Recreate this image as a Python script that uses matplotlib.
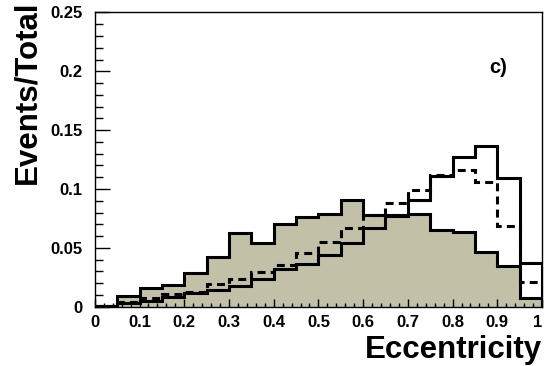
import matplotlib
matplotlib.use("Agg")
import matplotlib.pyplot as plt
from matplotlib.ticker import MultipleLocator
import numpy as np

plt.rcParams['font.family'] = ['Liberation Sans', 'DejaVu Sans']
plt.rcParams['font.weight'] = 'bold'

# 20 bins of eccentricity, width 0.05
bin_edges = np.linspace(0, 1, 21)

# filled histogram (peaks around 0.55-0.6)
filled = [0.001, 0.0091, 0.0160, 0.0184, 0.0289, 0.042, 0.0623, 0.0544, 0.0702, 0.0759,
          0.0785, 0.0903, 0.078, 0.077, 0.079, 0.065, 0.0637, 0.0467, 0.0346, 0.0071]
# solid open histogram (peaks around 0.85-0.9)
solid = [0.001, 0.003, 0.005, 0.008, 0.0114, 0.0142, 0.0176, 0.0233, 0.0317, 0.0363,
         0.0439, 0.0538, 0.0666, 0.078, 0.091, 0.111, 0.1269, 0.1365, 0.109, 0.0368]
# dashed histogram
dashed = [0.001, 0.004, 0.007, 0.0108, 0.0127, 0.0193, 0.0233, 0.0297, 0.0354, 0.0459,
          0.0552, 0.0666, 0.078, 0.088, 0.099, 0.112, 0.116, 0.106, 0.0688, 0.0207]

xticks = [0, 0.1, 0.2, 0.3, 0.4, 0.5, 0.6, 0.7, 0.8, 0.9, 1]
xticklabels = ['0', '0.1', '0.2', '0.3', '0.4', '0.5', '0.6', '0.7', '0.8', '0.9', '1']
yticks = [0, 0.05, 0.1, 0.15, 0.2, 0.25]
yticklabels = ['0', '0.05', '0.1', '0.15', '0.2', '0.25']

fig = plt.figure(figsize=(5.45, 3.66), dpi=100)
ax = fig.add_axes([0.174, 0.162, 0.8205, 0.804])

ax.stairs(filled, bin_edges, fill=True, color='#c3c0a8', baseline=0, zorder=1)
ax.stairs(filled, bin_edges, color='black', lw=2.2, baseline=0, zorder=3)
ax.stairs(solid, bin_edges, color='black', lw=2.2, baseline=0, zorder=3)
ax.stairs(dashed, bin_edges, color='black', lw=2.2, ls=(0, (2.6, 1.7)), baseline=0, zorder=4)

ax.set_xlim(0, 1)
ax.set_ylim(0, 0.25)

ax.set_xticks(xticks)
ax.set_xticklabels(xticklabels)
ax.set_yticks(yticks)
ax.set_yticklabels(yticklabels)
ax.xaxis.set_minor_locator(MultipleLocator(0.02))
ax.yaxis.set_minor_locator(MultipleLocator(0.01))
ax.tick_params(axis='both', which='both', direction='in', top=False, right=False,
               labelsize=12, width=1)
ax.tick_params(axis='y', which='major', length=11, pad=9)
ax.tick_params(axis='y', which='minor', length=6)
ax.tick_params(axis='x', which='major', length=6, pad=6)
ax.tick_params(axis='x', which='minor', length=3)
for lab in ax.get_xticklabels() + ax.get_yticklabels():
    lab.set_fontweight('bold')
# keep the last x label inside the figure
ax.get_xticklabels()[-1].set_horizontalalignment('right')

for sp in ax.spines.values():
    sp.set_linewidth(1)
    sp.set_zorder(5)

ax.text(0.922, 0.2036, 'c)', transform=ax.get_yaxis_transform(), fontsize=14.5,
        fontweight='bold', ha='right', va='center')

fig.text(0.995, 0.003, 'Eccentricity', fontsize=22.5, fontweight='bold', ha='right', va='bottom')
fig.text(0.022, 1.0, 'Events/Total', fontsize=22.5, fontweight='bold', rotation=90,
         ha='left', va='top')

fig.savefig('out.png', dpi=100)
